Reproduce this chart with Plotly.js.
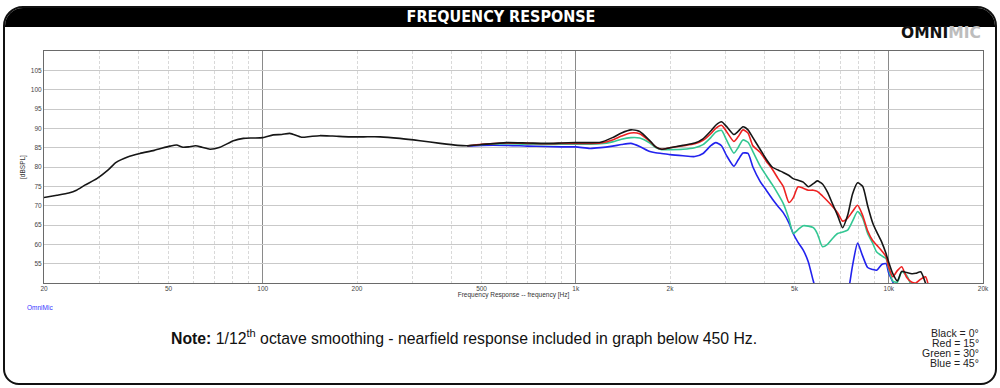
<!DOCTYPE html>
<html>
<head>
<meta charset="utf-8">
<script src="https://cdn.plot.ly/plotly-3.0.1.min.js"></script>
<style>
  html, body { margin: 0; padding: 0; background: #ffffff; }
  #wrap { position: relative; width: 1000px; height: 388px; overflow: hidden; }
  #frame { position: absolute; left: 3px; top: 6px; width: 994px; height: 379px; box-sizing: border-box;
           border: 2px solid #111; border-radius: 20px 20px 16px 16px; background: #fff; overflow: hidden; }
  #header { height: 19px; background: #000; }
  #chart { position: absolute; left: 0; top: 0; width: 1000px; height: 388px; }
</style>
</head>
<body>
<div id="wrap">
  <div id="frame"><div id="header"></div></div>
  <div id="chart"></div>
</div>
<script>
// ---- Data ----
// Shared nearfield-merged region (all angles identical), Hz and dB SPL
const freqLF = [20, 22, 24, 25.4, 27, 29.5, 32, 34, 37, 40.5, 45, 50.5, 53, 55.6, 58, 61, 64, 67.8, 73, 80.6, 86.7, 93, 100, 108, 115, 122, 133, 142, 152, 167, 190, 210, 237, 274, 318, 369, 420];
const splLF  = [72.1, 72.7, 73.3, 74.0, 75.3, 77.0, 79.2, 81.2, 82.6, 83.5, 84.3, 85.4, 85.7, 85.1, 85.2, 85.5, 85.1, 84.6, 85.1, 86.8, 87.4, 87.5, 87.6, 88.3, 88.4, 88.7, 87.7, 87.9, 88.1, 88.0, 87.8, 87.8, 87.8, 87.4, 86.8, 86.1, 85.6];

// Far-field region, per angle
const freqHF = [450, 500, 600, 700, 800, 900, 1000, 1110, 1200, 1310, 1400, 1500, 1600, 1725, 1800, 1880, 2000, 2200, 2400, 2550, 2700, 2800, 2920, 3030, 3200, 3300, 3420, 3550, 3680, 3880, 4060, 4240, 4430, 4600, 4800, 4950, 5130, 5330, 5530, 5740, 5910, 6140, 6370, 6610, 6860, 7120, 7390, 7660, 7950, 8250, 8560, 8880, 9150, 9500, 9800, 10000, 10300, 10650, 11000, 11400, 11850, 12200, 12650, 13100, 13500];
const spl0deg  = [85.5, 85.8, 86.3, 86.2, 86.1, 86.2, 86.3, 86.3, 86.4, 87.6, 88.8, 89.6, 89.2, 86.8, 85.2, 84.6, 85.0, 85.6, 86.2, 87.3, 89.3, 90.8, 91.7, 90.5, 88.4, 89.2, 90.4, 89.6, 87.6, 84.6, 82.0, 80.0, 79.2, 78.6, 77.8, 77.0, 76.6, 76.1, 74.9, 75.7, 76.4, 75.6, 73.5, 70.5, 67.5, 64.3, 67.5, 73.0, 75.9, 75.0, 70.0, 65.6, 63.2, 60.5, 57.6, 55.3, 52.4, 50.5, 53.0, 52.7, 52.4, 52.5, 52.9, 50.0, 47.0];
const spl15deg = [85.5, 85.9, 86.2, 86.1, 86.0, 86.1, 86.1, 86.1, 86.2, 87.0, 88.0, 88.8, 88.6, 86.6, 85.2, 84.6, 85.0, 85.5, 86.0, 86.9, 88.6, 90.0, 90.8, 89.2, 86.6, 87.8, 89.6, 88.8, 85.5, 83.8, 81.5, 79.5, 77.0, 75.0, 70.8, 72.0, 74.9, 74.5, 74.0, 74.0, 73.7, 72.5, 71.2, 69.8, 68.2, 66.0, 66.8, 68.5, 70.1, 67.5, 63.5, 61.0, 59.8, 58.3, 56.8, 54.0, 51.6, 53.2, 54.2, 51.5, 50.2, 50.0, 51.0, 51.6, 48.0];
const spl30deg = [85.5, 85.8, 86.0, 85.9, 85.8, 85.9, 85.9, 85.9, 86.0, 86.5, 87.2, 87.6, 87.5, 86.2, 85.0, 84.5, 84.5, 84.6, 85.0, 85.8, 87.6, 89.0, 89.5, 87.0, 83.6, 85.0, 87.0, 86.4, 84.0, 80.3, 77.8, 75.5, 73.0, 70.6, 66.5, 62.8, 63.8, 64.8, 64.7, 64.3, 62.8, 59.4, 60.0, 61.5, 62.8, 63.2, 63.7, 66.0, 68.5, 66.8, 62.8, 60.3, 58.0, 57.0, 56.3, 53.5, 50.5, 50.2, 52.9, 52.0, 49.0, 47.0, 46.0, 45.0, 45.0];
const spl45deg = [85.4, 85.6, 85.6, 85.4, 85.3, 85.2, 85.2, 84.8, 85.0, 85.4, 85.8, 86.1, 85.3, 84.0, 83.7, 83.5, 83.2, 82.9, 82.7, 83.5, 85.5, 86.3, 85.5, 83.0, 80.2, 81.8, 83.6, 83.5, 80.0, 76.3, 74.0, 71.8, 69.8, 68.2, 65.5, 62.8, 60.5, 58.5, 55.5, 50.5, 47.0, 45.0, 44.0, 44.0, 44.0, 44.0, 47.0, 54.5, 60.3, 57.0, 54.0, 53.5, 53.3, 54.8, 55.0, 52.5, 50.3, 48.0, 46.0, 45.0, 45.0, 45.0, 45.0, 45.0, 45.0];

// Axis ticks and grid
const xTickHz = [20, 50, 100, 200, 500, 1000, 2000, 5000, 10000, 20000];
const xTickText = ['20', '50', '100', '200', '500', '1k', '2k', '5k', '10k', '20k'];
const xMajorGridHz = [100, 1000, 10000];
const xMinorGridHz = [30, 40, 50, 60, 70, 80, 90, 200, 300, 400, 500, 600, 700, 800, 900, 2000, 3000, 4000, 5000, 6000, 7000, 8000, 9000];
const yTicks = [55, 60, 65, 70, 75, 80, 85, 90, 95, 100, 105];
const legendLines = ['Black = 0°', 'Red = 15°', 'Green = 30°', 'Blue = 45°'];

// ---- Plot ----
const FONT = '"Liberation Sans", Arial, Helvetica, sans-serif';
const xr = [Math.log10(20), Math.log10(20000)];

const traces = [
  { x: freqHF, y: spl45deg, xaxis: 'x', yaxis: 'y', type: 'scatter', mode: 'lines',
    line: { color: '#2222ee', width: 1.6, shape: 'spline', smoothing: 0.6 }, hoverinfo: 'skip' },
  { x: freqHF, y: spl30deg, xaxis: 'x', yaxis: 'y', type: 'scatter', mode: 'lines',
    line: { color: '#33c793', width: 1.6, shape: 'spline', smoothing: 0.6 }, hoverinfo: 'skip' },
  { x: freqHF, y: spl15deg, xaxis: 'x', yaxis: 'y', type: 'scatter', mode: 'lines',
    line: { color: '#ee2222', width: 1.6, shape: 'spline', smoothing: 0.6 }, hoverinfo: 'skip' },
  { x: freqLF.concat(freqHF), y: splLF.concat(spl0deg), xaxis: 'x2', yaxis: 'y', type: 'scatter', mode: 'lines',
    line: { color: '#161616', width: 1.6, shape: 'spline', smoothing: 0.6 }, hoverinfo: 'skip' }
];

const P = (px) => (px - 44) / 939;     // helpers for placing free text in paper units
const Q = (py) => (283 - py) / 232;

const layout = {
  width: 1000, height: 388,
  margin: { l: 44, r: 17, t: 51, b: 105, pad: 0 },
  paper_bgcolor: 'rgba(0,0,0,0)',
  plot_bgcolor: '#ffffff',
  showlegend: false,
  font: { family: FONT, color: '#444' },
  title: {
    text: '<b>FREQUENCY RESPONSE</b>',
    font: { family: '"Liberation Sans Narrow", "DejaVu Sans Condensed", "Arial Narrow", sans-serif', size: 16, color: '#ffffff' },
    x: 0.501, xref: 'container', xanchor: 'center',
    y: 1 - 16.5 / 388, yref: 'container', yanchor: 'middle'
  },
  xaxis: {
    type: 'log', range: xr, fixedrange: true,
    tickmode: 'array', tickvals: xMajorGridHz, showticklabels: false, ticks: '',
    showgrid: true, gridcolor: '#8a8a8a', gridwidth: 1,
    minor: { tickmode: 'array', tickvals: xMinorGridHz, showgrid: true, gridcolor: '#d9d9d9', gridwidth: 1, griddash: '3px,2px', ticks: '' },
    showline: true, mirror: true, linecolor: '#6a6a6a', linewidth: 1, zeroline: false
  },
  xaxis2: {
    type: 'log', range: xr, overlaying: 'x', anchor: 'y', side: 'bottom', fixedrange: true,
    tickmode: 'array', tickvals: xTickHz, ticktext: xTickText, ticks: '',
    showgrid: false, showline: false, zeroline: false,
    tickfont: { family: FONT, size: 6.5, color: '#444' },
    title: { text: 'Frequency Response -- frequency [Hz]', font: { family: FONT, size: 6.5, color: '#333' }, standoff: 1 }
  },
  yaxis: {
    range: [50, 110], fixedrange: true,
    tickmode: 'array', tickvals: yTicks, ticks: '',
    showgrid: true, gridcolor: '#c9c9c9', gridwidth: 1,
    showline: true, mirror: true, linecolor: '#6a6a6a', linewidth: 1, zeroline: false,
    tickfont: { family: FONT, size: 6.5, color: '#444' },
    title: { text: '[dBSPL]', font: { family: FONT, size: 6.5, color: '#333' }, standoff: 4 }
  },
  annotations: [
    { xref: 'paper', yref: 'paper', x: P(983), y: Q(33.5), xanchor: 'right', yanchor: 'middle', showarrow: false,
      text: '<b>OMNI</b><b><span style="color:#bdbdbd">MIC</span></b>',
      font: { family: '"DejaVu Sans", sans-serif', size: 15.5, color: '#111' } },
    { xref: 'paper', yref: 'paper', x: P(25), y: Q(307), xanchor: 'left', yanchor: 'middle', showarrow: false,
      text: 'OmniMic', font: { family: FONT, size: 6.5, color: '#3333ff' } },
    { xref: 'paper', yref: 'paper', x: P(463.5), y: Q(337), xanchor: 'center', yanchor: 'middle', showarrow: false,
      text: '<b>Note:</b> 1/12<sup>th</sup> octave smoothing - nearfield response included in graph below 450 Hz.',
      font: { family: FONT, size: 15.8, color: '#111' } }
  ].concat(legendLines.map((t, i) => ({
      xref: 'paper', yref: 'paper', x: P(981), y: Q(332.5 + i * 10.1), xanchor: 'right', yanchor: 'middle', showarrow: false,
      text: t, font: { family: FONT, size: 10.5, color: '#222' }
  })))
};

Plotly.newPlot('chart', traces, layout, { staticPlot: true, displayModeBar: false });
</script>
</body>
</html>
